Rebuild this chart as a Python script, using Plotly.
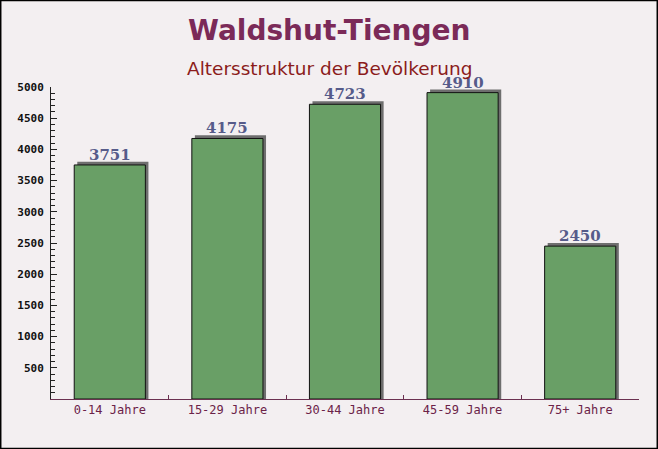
import plotly.graph_objects as go

categories = ["0-14 Jahre", "15-29 Jahre", "30-44 Jahre", "45-59 Jahre", "75+ Jahre"]
values = [3751, 4175, 4723, 4910, 2450]
y_tick_vals = [500, 1000, 1500, 2000, 2500, 3000, 3500, 4000, 4500, 5000]
title_text = "Waldshut-Tiengen"
subtitle_text = "Altersstruktur der Bevölkerung"

W, H = 658, 449
L, R, T, B = 51, 19, 87, 50
PW, PH = W - L - R, H - T - B

bar_w = 0.605
shadow_dx = 0.026
shadow_dy = 50

fig = go.Figure()
fig.add_bar(
    x=categories, y=[v + shadow_dy for v in values], width=bar_w,
    offset=-bar_w / 2 + shadow_dx,
    marker=dict(color="#6e6e6e", line=dict(width=0)), hoverinfo="skip",
)
fig.add_bar(
    x=categories, y=values, width=bar_w, offset=-bar_w / 2,
    marker=dict(color="#699f66", line=dict(color="#111111", width=1)),
)

annotations = []
for c, v in zip(categories, values):
    annotations.append(dict(
        x=c, y=v, xref="x", yref="y", text=str(v), showarrow=False,
        yanchor="bottom", yshift=0, borderpad=0,
        font=dict(family="DejaVu Serif", size=15, color="#565b8a", weight="bold"),
    ))
annotations.append(dict(
    x=(W / 2 - L) / PW, xref="paper", y=1 + (T - 31) / PH, yref="paper", text=title_text,
    showarrow=False, yanchor="middle", xanchor="center",
    font=dict(family="DejaVu Sans", size=28, color="#7b2a58", weight="bold"),
))
annotations.append(dict(
    x=(W / 2 - L) / PW, xref="paper", y=1 + (T - 68) / PH, yref="paper", text=subtitle_text,
    showarrow=False, yanchor="middle", xanchor="center", borderpad=0,
    font=dict(family="DejaVu Sans", size=18.5, color="#8b1c1c"),
))

fig.update_layout(
    width=W, height=H,
    margin=dict(l=L, r=R, t=T, b=B, pad=0),
    paper_bgcolor="#f3eff1", plot_bgcolor="rgba(0,0,0,0)",
    barmode="overlay", showlegend=False,
    annotations=annotations,
    shapes=[dict(
        type="rect", xref="paper", yref="paper",
        x0=-L / PW + 0.0008, x1=1 + R / PW - 0.0008,
        y0=-B / PH + 0.001, y1=1 + T / PH - 0.001,
        line=dict(color="#000000", width=2), fillcolor="rgba(0,0,0,0)",
    )],
)
fig.update_xaxes(
    showline=True, linecolor="#6b3050", linewidth=1,
    ticks="inside", tickson="boundaries", ticklen=4, tickcolor="#6b3050",
    tickfont=dict(family="DejaVu Sans Mono", size=12, color="#6b2248"),
    showgrid=False, zeroline=False, fixedrange=True,
)
fig.update_yaxes(
    range=[0, 5000], tickmode="array", tickvals=y_tick_vals,
    showline=True, linecolor="#222222", linewidth=1,
    ticks="inside", ticklen=6, tickcolor="#222222",
    minor=dict(tickmode="linear", tick0=0, dtick=100, ticks="inside", ticklen=4, tickcolor="#222222"),
    tickfont=dict(family="DejaVu Sans Mono", size=11, color="#111111", weight="bold"),
    ticklabelstandoff=4,
    showgrid=False, zeroline=False, fixedrange=True,
)

fig.write_html(
    "out.html",
    config={"displayModeBar": False},
    post_script="document.body.style.margin='0';document.body.style.overflow='hidden';",
)
